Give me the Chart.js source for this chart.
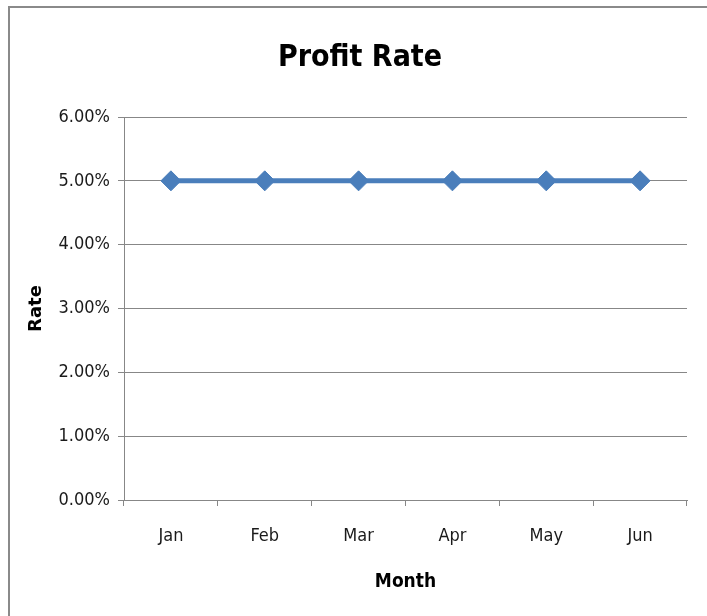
<!DOCTYPE html>
<html lang="en">
<head>
  <meta charset="UTF-8"/>
  <title>Profit Rate</title>
  <script src="https://cdn.jsdelivr.net/npm/chart.js"></script>
  <style>
    body{margin:0;padding:0;background:#fff;}
    #wrap{position:relative;width:707px;height:616px;}
  </style>
</head>
<body>
<div id="wrap"><canvas id="profitChart" width="707" height="616"></canvas></div>
<script>
  // chart data
  const months=["Jan","Feb","Mar","Apr","May","Jun"];
  const profitRate=[5,5,5,5,5,5];   // percent
  const yTicks=[0,1,2,3,4,5,6];

  const narrow="'Liberation Sans Narrow','DejaVu Sans Condensed',sans-serif";
  const lineBlue='#4A7EBB';
  const gridGray='#878787';

  // outer frame like the spreadsheet chart box
  const frame={
    id:'frame',
    beforeDraw(c){
      const ctx=c.ctx;
      ctx.save();
      ctx.fillStyle='#fff';ctx.fillRect(0,0,c.width,c.height);
      ctx.strokeStyle='#8a8a8a';ctx.lineWidth=2;
      ctx.strokeRect(9,7,760,700);
      ctx.restore();
    }
  };

  new Chart(document.getElementById('profitChart'),{
    type:'line',
    data:{labels:months,datasets:[{
      label:'Rate',data:profitRate,
      borderColor:lineBlue,backgroundColor:lineBlue,borderWidth:5,
      pointStyle:'rectRot',pointRadius:10,pointHoverRadius:10,
      pointBackgroundColor:lineBlue,pointBorderColor:lineBlue,pointBorderWidth:1,
      tension:0,fill:false
    }]},
    options:{
      responsive:false,animation:false,
      layout:{padding:{left:33,right:20,top:0,bottom:0}},
      plugins:{
        legend:{display:false},tooltip:{enabled:false},
        title:{display:true,text:'Profit Rate',color:'#000',
          font:{family:narrow,size:30,weight:'bold'},padding:{top:40,bottom:41}}
      },
      scales:{
        x:{
          offset:true,
          grid:{offset:true,drawOnChartArea:false,drawTicks:true,tickLength:6,color:gridGray},
          border:{color:gridGray,width:1},
          ticks:{color:'#1a1a1a',font:{family:narrow,size:18},padding:20,maxRotation:0},
          title:{display:true,text:'Month',color:'#000',font:{family:narrow,size:19,weight:'bold'},padding:{top:0,bottom:23}},
          afterFit(s){s.height=116;}
        },
        y:{
          min:0,max:6,
          afterBuildTicks(s){s.ticks=yTicks.map(v=>({value:v}));},
          grid:{color:gridGray,tickLength:6,drawTicks:true},
          border:{color:gridGray,width:1},
          ticks:{color:'#1a1a1a',font:{family:narrow,size:18},padding:8,
            callback:v=>v.toFixed(2)+'%'},
          title:{display:true,text:'Rate',color:'#000',font:{family:"'DejaVu Sans',sans-serif",size:18,weight:'bold'},padding:{top:-7,bottom:0}},
          afterFit(s){s.width=91;}
        }
      }
    },
    plugins:[frame]
  });
</script>
</body>
</html>
